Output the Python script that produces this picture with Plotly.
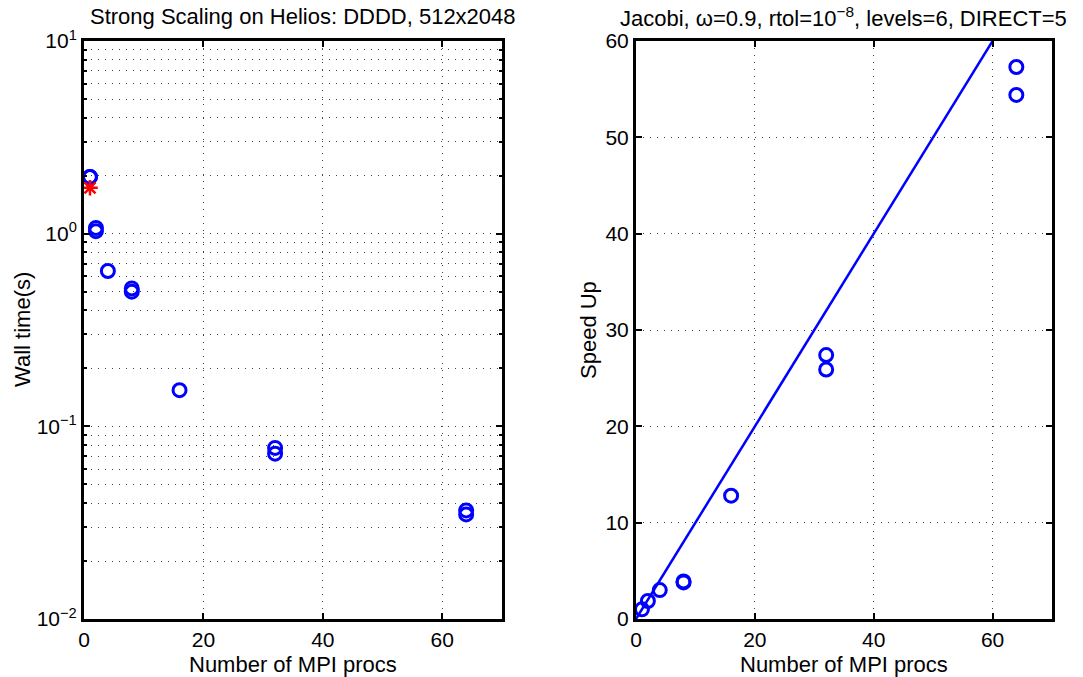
import plotly.graph_objects as go

# Wall-clock times (s) for each run on Helios, DDDD decomposition, 512x2048 grid
procs = [1, 1, 2, 2, 4, 8, 8, 16, 32, 32, 64, 64]
wall_time = [1.97, 1.97, 1.07, 1.03, 0.64, 0.52, 0.50, 0.154, 0.0773, 0.0721, 0.0366, 0.0349]

# Serial reference time
serial_procs = [1]
serial_time = [1.73]

# Measured speed-up per run
speedup_procs = [1, 2, 4, 8, 8, 16, 32, 32, 64, 64]
speedup = [1.0, 1.87, 3.0, 3.9, 3.8, 12.8, 27.4, 25.9, 57.3, 54.4]

# Ideal (linear) speed-up line
ideal_procs = [0, 64]
ideal_speedup = [0, 64]

x_ticks = [0, 20, 40, 60]
speed_ticks = [0, 10, 20, 30, 40, 50, 60]
log_ticks = [0.01, 0.1, 1, 10]
log_tick_text = ["10<sup>\u22122</sup>", "10<sup>\u22121</sup>", "10<sup>0</sup>", "10<sup>1</sup>"]
log_minor = [m * d for d in (0.01, 0.1, 1) for m in range(2, 10)]

FONT = "Liberation Sans, Arial, Helvetica, sans-serif"
FS = 22
TICK_FS = 21
BLUE = "#0000FF"
GRID = "#444444"
DOT = "1px,6px"

fig = go.Figure()

fig.add_trace(go.Scatter(
    x=procs, y=wall_time, mode="markers", xaxis="x", yaxis="y",
    marker=dict(symbol="circle-open", size=13, color=BLUE, line=dict(width=3, color=BLUE)),
    cliponaxis=False, showlegend=False,
))
fig.add_trace(go.Scatter(
    x=serial_procs, y=serial_time, mode="markers", xaxis="x", yaxis="y",
    marker=dict(symbol="asterisk-open", size=13, color="#FF0000", line=dict(width=2.5, color="#FF0000")),
    cliponaxis=False, showlegend=False,
))
fig.add_trace(go.Scatter(
    x=ideal_procs, y=ideal_speedup, mode="lines", xaxis="x2", yaxis="y2",
    line=dict(color=BLUE, width=2.5), showlegend=False,
))
fig.add_trace(go.Scatter(
    x=speedup_procs, y=speedup, mode="markers", xaxis="x2", yaxis="y2",
    marker=dict(symbol="circle-open", size=13, color=BLUE, line=dict(width=3, color=BLUE)),
    cliponaxis=False, showlegend=False,
))

axis_common = dict(
    showline=True, linecolor="black", linewidth=3, mirror="ticks",
    ticks="inside", ticklen=6, tickwidth=2, tickcolor="black",
    showgrid=True, gridcolor=GRID, gridwidth=1, griddash=DOT,
    zeroline=False, automargin=False,
    tickfont=dict(family=FONT, size=TICK_FS, color="black"),
)

fig.update_layout(
    width=1083, height=677,
    margin=dict(l=0, r=0, t=0, b=0),
    paper_bgcolor="white", plot_bgcolor="white",
    xaxis=dict(domain=[84 / 1083, 502 / 1083], range=[0, 70], tickmode="array",
               tickvals=x_ticks, anchor="y", **axis_common),
    yaxis=dict(domain=[58 / 677, 636 / 677], type="log", range=[-2, 1], tickmode="array",
               tickvals=log_ticks, ticktext=log_tick_text, anchor="x",
               minor=dict(tickmode="array", tickvals=log_minor, ticks="inside", ticklen=3,
                          tickcolor="black", showgrid=True, gridcolor=GRID, griddash=DOT, gridwidth=1),
               **axis_common),
    xaxis2=dict(domain=[636 / 1083, 1052 / 1083], range=[0, 70], tickmode="array",
                tickvals=x_ticks, anchor="y2", **axis_common),
    yaxis2=dict(domain=[58 / 677, 636 / 677], range=[0, 60], tickmode="array",
                tickvals=speed_ticks, anchor="x2", **axis_common),
)

label_font = dict(family=FONT, size=FS, color="black")
annotations = [
    dict(text="Strong Scaling on Helios: DDDD, 512x2048", x=303 / 1083, y=1 - 17 / 677),
    dict(text="Jacobi, \u03c9=0.9, rtol=10<sup>\u22128</sup>, levels=6, DIRECT=5", x=843 / 1083, y=1 - 17 / 677),
    dict(text="Number of MPI procs", x=293 / 1083, y=1 - 664 / 677),
    dict(text="Number of MPI procs", x=844 / 1083, y=1 - 664 / 677),
    dict(text="Wall time(s)", x=22 / 1083, y=1 - 330 / 677, textangle=-90),
    dict(text="Speed Up", x=588 / 1083, y=1 - 330 / 677, textangle=-90),
]
for a in annotations:
    fig.add_annotation(xref="paper", yref="paper", showarrow=False,
                       xanchor="center", yanchor="middle", font=label_font, **a)

fig.write_html("out.html")
